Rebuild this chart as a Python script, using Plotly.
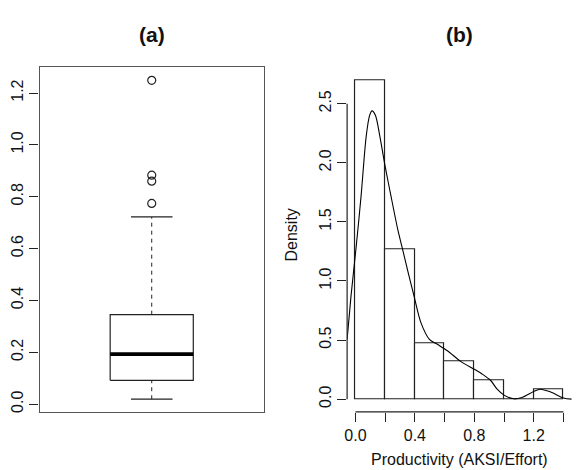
import plotly.graph_objects as go

# ---------------- data ----------------
# (a) box plot summary of productivity
box_q1 = 0.092
box_median = 0.193
box_q3 = 0.345
box_whisker_low = 0.019
box_whisker_high = 0.722
box_outliers = [0.774, 0.860, 0.883, 1.249]
a_ticks = [0.0, 0.2, 0.4, 0.6, 0.8, 1.0, 1.2]
a_ticklabels = ["0.0", "0.2", "0.4", "0.6", "0.8", "1.0", "1.2"]

# (b) histogram (density) + kernel density curve
bin_edges = [0.0, 0.2, 0.4, 0.6, 0.8, 1.0, 1.2, 1.4]
bin_density = [2.698, 1.270, 0.476, 0.317, 0.159, 0.0, 0.079]
kde_x = [-0.056, -0.03, 0.005, 0.038, 0.072, 0.095, 0.112, 0.135, 0.165, 0.2,
         0.239, 0.286, 0.317, 0.355, 0.395, 0.44, 0.498, 0.552, 0.619, 0.708,
         0.8, 0.85, 0.909, 0.954, 1.0, 1.065, 1.121, 1.2, 1.244, 1.311, 1.4, 1.456]
kde_y = [0.506, 0.87, 1.29, 1.72, 2.22, 2.40, 2.44, 2.40, 2.22, 1.97,
         1.72, 1.43, 1.27, 1.07, 0.87, 0.65, 0.506, 0.464, 0.41, 0.32,
         0.253, 0.215, 0.16, 0.084, 0.034, 0.003, 0.014, 0.065, 0.084, 0.062, 0.01, 0.0]
b_yticks = [0.0, 0.5, 1.0, 1.5, 2.0, 2.5]
b_yticklabels = ["0.0", "0.5", "1.0", "1.5", "2.0", "2.5"]
b_xticks = [0.0, 0.2, 0.4, 0.6, 0.8, 1.0, 1.2, 1.4]
b_xticklabels = ["0.0", "", "0.4", "", "0.8", "", "1.2", ""]

FONT = "Liberation Sans, Arial, Helvetica, sans-serif"
W, H = 582, 470
LINE = "#222222"

fig = go.Figure()

# ---------- panel (a) ----------
pos = 1.0
hw = 0.2   # half box width
cw = 0.1   # half cap width
fig.add_trace(go.Scatter(
    x=[pos - hw, pos + hw, pos + hw, pos - hw, pos - hw],
    y=[box_q1, box_q1, box_q3, box_q3, box_q1],
    mode="lines", line=dict(color=LINE, width=1.2),
    xaxis="x", yaxis="y", showlegend=False, hoverinfo="skip"))
fig.add_trace(go.Scatter(
    x=[pos - hw, pos + hw], y=[box_median, box_median],
    mode="lines", line=dict(color="black", width=3.8),
    xaxis="x", yaxis="y", showlegend=False, hoverinfo="skip"))
for lo, hi in [(box_q3, box_whisker_high), (box_whisker_low, box_q1)]:
    fig.add_trace(go.Scatter(
        x=[pos, pos], y=[lo, hi], mode="lines",
        line=dict(color=LINE, width=1, dash="4px,4px"),
        xaxis="x", yaxis="y", showlegend=False, hoverinfo="skip"))
for v in [box_whisker_high, box_whisker_low]:
    fig.add_trace(go.Scatter(
        x=[pos - cw, pos + cw], y=[v, v], mode="lines",
        line=dict(color=LINE, width=1.2),
        xaxis="x", yaxis="y", showlegend=False, hoverinfo="skip"))
fig.add_trace(go.Scatter(
    x=[pos] * len(box_outliers), y=box_outliers, mode="markers",
    marker=dict(symbol="circle-open", size=8, color=LINE, line=dict(width=1.2)),
    xaxis="x", yaxis="y", showlegend=False, hoverinfo="skip"))

# ---------- panel (b) ----------
centers = [(a + b) / 2 for a, b in zip(bin_edges[:-1], bin_edges[1:])]
widths = [b - a for a, b in zip(bin_edges[:-1], bin_edges[1:])]
fig.add_trace(go.Bar(
    x=centers, y=bin_density, width=widths,
    marker=dict(color="white", line=dict(color=LINE, width=1.2)),
    xaxis="x2", yaxis="y2", showlegend=False, hoverinfo="skip"))
fig.add_trace(go.Scatter(
    x=kde_x, y=kde_y, mode="lines",
    line=dict(color="black", width=1.1, shape="spline", smoothing=0.8),
    xaxis="x2", yaxis="y2", showlegend=False, hoverinfo="skip"))

ydom = [1 - 412.8 / H, 1 - 67.5 / H]
tickfont = dict(family=FONT, size=16, color="#111111")

fig.update_layout(
    width=W, height=H, autosize=False,
    margin=dict(l=0, r=0, t=0, b=0),
    paper_bgcolor="white", plot_bgcolor="white",
    bargap=0,
    xaxis=dict(domain=[36.7 / W, 262.3 / W], range=[0.46, 1.54],
               showline=True, mirror=True, linecolor="#555555", linewidth=1.3,
               showticklabels=False, ticks="", showgrid=False, zeroline=False,
               anchor="y"),
    yaxis=dict(domain=ydom, range=[-0.030, 1.299],
               showline=True, mirror=True, linecolor="#555555", linewidth=1.3,
               ticks="outside", ticklen=9, tickcolor=LINE, tickwidth=1.2,
               tickvals=a_ticks, ticktext=a_ticklabels, tickangle=-90,
               tickfont=tickfont, showgrid=False, zeroline=False, anchor="x"),
    xaxis2=dict(domain=[345.9 / W, 571.7 / W], range=[-0.056, 1.456],
                showline=False, ticks="outside", ticklen=9, tickcolor=LINE,
                tickwidth=1.2, tickvals=b_xticks, ticktext=b_xticklabels,
                tickangle=0, tickfont=tickfont, showgrid=False, zeroline=False,
                anchor="y2"),
    yaxis2=dict(domain=ydom, range=[-0.108, 2.808],
                showline=False, ticks="outside", ticklen=9, tickcolor=LINE,
                tickwidth=1.2, tickvals=b_yticks, ticktext=b_yticklabels,
                tickangle=-90, tickfont=tickfont, showgrid=False,
                zeroline=False, anchor="x2"),
    shapes=[
        dict(type="line", xref="x2", yref="y2 domain",
             x0=b_xticks[0], x1=b_xticks[-1], y0=0, y1=0,
             line=dict(color=LINE, width=1.2)),
        dict(type="line", xref="x2 domain", yref="y2",
             x0=0, x1=0, y0=b_yticks[0], y1=b_yticks[-1],
             line=dict(color=LINE, width=1.2)),
    ],
    annotations=[
        dict(text="<b>(a)</b>", xref="paper", yref="paper",
             x=149.5 / W, y=1 - 35 / H, showarrow=False,
             xanchor="center", yanchor="middle",
             font=dict(family=FONT, size=21, color="#111111")),
        dict(text="<b>(b)</b>", xref="paper", yref="paper",
             x=458.8 / W, y=1 - 35 / H, showarrow=False,
             xanchor="center", yanchor="middle",
             font=dict(family=FONT, size=21, color="#111111")),
        dict(text="Density", xref="paper", yref="paper",
             x=289.5 / W, y=1 - 236 / H, showarrow=False, textangle=-90,
             xanchor="center", yanchor="middle",
             font=dict(family=FONT, size=16, color="#111111")),
        dict(text="Productivity (AKSI/Effort)", xref="paper", yref="paper",
             x=458.8 / W, y=1 - 460 / H, showarrow=False,
             xanchor="center", yanchor="middle",
             font=dict(family=FONT, size=16, color="#111111")),
    ],
)

fig.write_html("out.html")
